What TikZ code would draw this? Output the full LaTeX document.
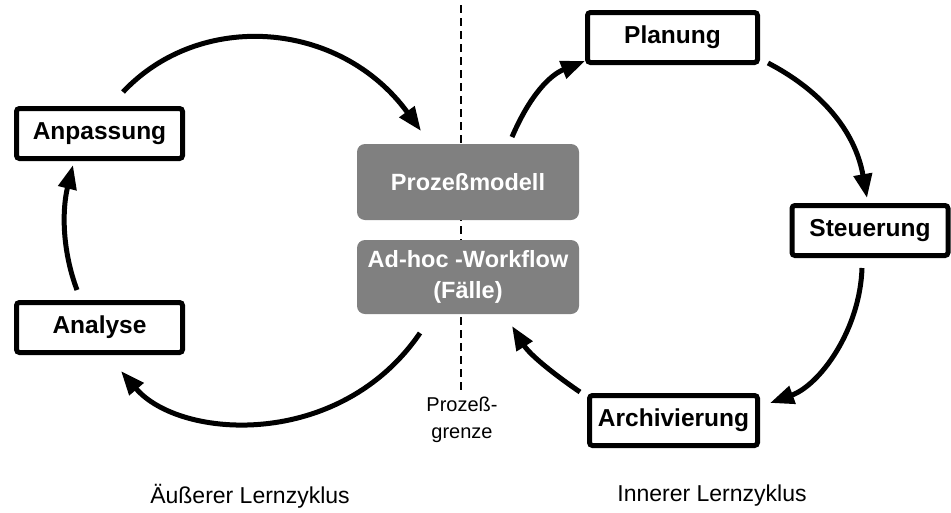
\documentclass[tikz,border=0pt]{standalone}
\usepackage{fontspec}
\setmainfont{Liberation Sans}
\usetikzlibrary{arrows.meta}
\begin{document}
\begin{tikzpicture}[x=1pt,y=-1pt,
  stagebox/.style={draw=black,line width=5pt,rounded corners=3pt,fill=white,inner sep=0pt,
    minimum height=50pt,font=\fontsize{24.5}{28}\selectfont\bfseries},
  graybox/.style={fill=black!50,rounded corners=8pt,inner sep=0pt,minimum width=222pt,
    text=white,align=center,font=\fontsize{23.5}{31}\selectfont\bfseries},
  cyc/.style={line width=5pt,-{Triangle[length=24pt,width=18pt]}},
  lbl/.style={font=\fontsize{23}{26}\selectfont}]
\useasboundingbox (0,0) rectangle (951,512);
% process boundary
\coordinate (dtop) at (461,5);
\coordinate (dbot) at (461,390);
\draw[line width=2.5pt,dash pattern=on 8pt off 5pt] (dtop) -- (dbot);
% gray boxes
\node[graybox,minimum height=76pt] (pm) at (468,182) {Prozeßmodell};
\node[graybox,minimum height=74pt] (ah) at (468,277) {Ad-hoc -Workflow\\(Fälle)};
% stage boxes
\node[stagebox,minimum width=166pt] (anp) at (99.5,133.5) {Anpassung};
\node[stagebox,minimum width=166pt] (ana) at (99.5,327.5) {Analyse};
\node[stagebox,minimum width=170pt] (pla) at (672.5,37.5) {Planung};
\node[stagebox,minimum width=156pt] (ste) at (870,230.5) {Steuerung};
\node[stagebox,minimum width=168pt] (arc) at (673.5,420.5) {Archivierung};
% labels
\node[font=\fontsize{20}{27}\selectfont,align=center] (pg) at (462,420) {Prozeß-\\grenze};
\node[lbl] (aus) at (250,496) {Äußerer Lernzyklus};
\node[lbl] (inn) at (712,496) {Innerer Lernzyklus};
% connector end points
\coordinate (a1) at (123,92);
\coordinate (a2) at (421,131);
\coordinate (b1) at (77,290);
\coordinate (b2) at (73,165);
\coordinate (c1) at (420,333);
\coordinate (c2) at (121,371);
\coordinate (d1) at (512,137);
\coordinate (d2) at (585,61);
\coordinate (e1) at (768,63);
\coordinate (e2) at (867,198);
\coordinate (f1) at (862,268);
\coordinate (f2) at (770,403);
\coordinate (g1) at (580,392);
\coordinate (g2) at (512,326);
% outer cycle
\draw[cyc] (a1) .. controls (200,10) and (340,20) .. (a2);
\draw[cyc] (b1) .. controls (62,250) and (62,210) .. (b2);
\draw[cyc] (c1) .. controls (340,450) and (180,440) .. (c2);
% inner cycle
\draw[cyc] (d1) .. controls (530,95) and (550,75) .. (d2);
\draw[cyc] (e1) .. controls (820,90) and (855,130) .. (e2);
\draw[cyc] (f1) .. controls (860,330) and (820,385) .. (f2);
\draw[cyc] (g1) .. controls (555,375) and (530,355) .. (g2);
\end{tikzpicture}
\end{document}
